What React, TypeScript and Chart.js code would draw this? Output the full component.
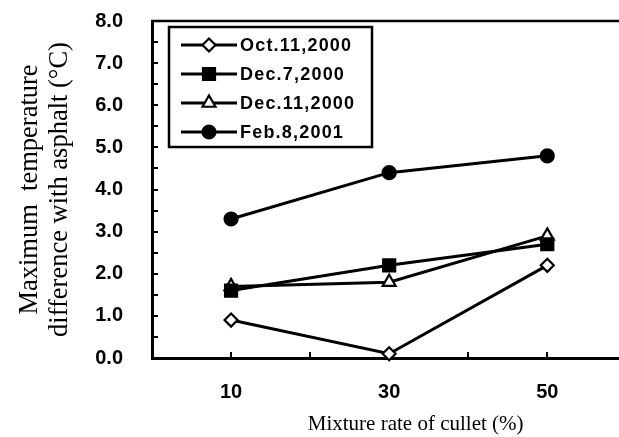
import React, { useEffect, useRef } from 'react';
import { Chart, registerables } from 'chart.js';
import { drawPoint } from 'chart.js/helpers';

Chart.register(...registerables);

const mixtureRates = [10, 30, 50];
const oct11 = [0.9, 0.1, 2.2];
const dec7 = [1.6, 2.2, 2.7];
const dec11 = [1.7, 1.8, 2.9];
const feb8 = [3.3, 4.4, 4.8];
const seriesLabels = ['Oct.11,2000', 'Dec.7,2000', 'Dec.11,2000', 'Feb.8,2001'];
const xTickLabels = [10, 30, 50];
const yTitle = ['Maximum  temperature', 'difference with asphalt (°C)'];
const xTitle = 'Mixture rate of cullet (%)';

const toPoints = (vals: number[]) => vals.map((v, i) => ({ x: mixtureRates[i], y: v }));

const topBorder = {
  id: 'topBorder',
  afterDraw(chart: any) {
    const { ctx, chartArea } = chart;
    ctx.save();
    ctx.strokeStyle = '#000';
    ctx.lineWidth = 2.5;
    ctx.beginPath();
    ctx.moveTo(chartArea.left - 1, chartArea.top);
    ctx.lineTo(chartArea.right, chartArea.top);
    ctx.stroke();
    ctx.restore();
  },
};

const boxLegend = {
  id: 'boxLegend',
  afterDraw(chart: any) {
    const { ctx, chartArea } = chart;
    const left = chartArea.left + 17;
    const top = chartArea.top + 6;
    const w = 203;
    const h = 120;
    ctx.save();
    ctx.fillStyle = '#fff';
    ctx.fillRect(left, top, w, h);
    ctx.strokeStyle = '#000';
    ctx.lineWidth = 2.5;
    ctx.strokeRect(left, top, w, h);
    ctx.font = 'bold 18px "Liberation Sans"';
    try { (ctx as any).letterSpacing = '1.2px'; } catch (e) {}
    chart.data.datasets.forEach((ds: any, i: number) => {
      const y = top + 18 + i * 29;
      ctx.beginPath();
      ctx.moveTo(left + 12, y);
      ctx.lineTo(left + 68, y);
      ctx.lineWidth = ds.borderWidth;
      ctx.strokeStyle = ds.borderColor;
      ctx.stroke();
      ctx.fillStyle = ds.pointBackgroundColor;
      ctx.strokeStyle = ds.pointBorderColor;
      ctx.lineWidth = ds.pointBorderWidth;
      drawPoint(ctx, { pointStyle: ds.pointStyle, rotation: 0, radius: ds.pointRadius, borderWidth: ds.pointBorderWidth }, left + 40, y);
      ctx.fillStyle = '#000';
      ctx.textBaseline = 'middle';
      ctx.textAlign = 'left';
      ctx.fillText(ds.label, left + 71, y + 1);
    });
    ctx.restore();
  },
};

export default function App() {
  const canvasRef = useRef<HTMLCanvasElement | null>(null);

  useEffect(() => {
    if (!canvasRef.current) return;
    const mk = (label: string, vals: number[], style: string, radius: number, fill: string) => ({
      label,
      data: toPoints(vals),
      borderColor: '#000',
      borderWidth: 3,
      pointStyle: style,
      pointRadius: radius,
      pointBackgroundColor: fill,
      pointBorderColor: '#000',
      pointBorderWidth: 2.2,
      clip: false as any,
    });
    const chart = new Chart(canvasRef.current, {
      type: 'line',
      data: {
        datasets: [
          mk(seriesLabels[0], oct11, 'rectRot', 6.5, '#fff'),
          mk(seriesLabels[1], dec7, 'rect', 8.5, '#000'),
          mk(seriesLabels[2], dec11, 'triangle', 7.5, '#fff'),
          mk(seriesLabels[3], feb8, 'circle', 6.5, '#000'),
        ] as any,
      },
      options: {
        animation: false,
        responsive: true,
        maintainAspectRatio: false,
        layout: { padding: { top: 21, right: 7, left: 0, bottom: 0 } },
        plugins: { legend: { display: false }, tooltip: { enabled: false } },
        scales: {
          x: {
            type: 'linear',
            min: 0,
            max: 66.7,
            afterFit: (s: any) => { s.height = 79; s.paddingLeft = 0; s.paddingRight = 0; },
            ticks: {
              stepSize: 10,
              autoSkip: false,
              maxRotation: 0,
              padding: 28,
              color: '#000',
              font: { family: 'Liberation Sans', size: 20, weight: 'bold' },
              callback: (v: any) => (xTickLabels.includes(Number(v)) ? String(v) : ''),
            },
            grid: { drawOnChartArea: false, drawTicks: true, tickLength: -6, color: '#000', lineWidth: 2 },
            border: { display: true, color: '#000', width: 3 },
            title: {
              display: true,
              text: xTitle,
              color: '#000',
              font: { family: 'Liberation Serif', size: 21 },
              padding: { top: 0, bottom: 0 },
            },
          },
          y: {
            min: 0,
            max: 8,
            afterFit: (s: any) => { s.width = 152; s.paddingTop = 10; s.paddingBottom = 10; },
            ticks: {
              stepSize: 0.5,
              autoSkip: false,
              padding: 35,
              color: '#000',
              font: { family: 'Liberation Sans', size: 20, weight: 'bold' },
              callback: (v: any) => (Number.isInteger(Number(v)) ? Number(v).toFixed(1) : ''),
            },
            grid: { drawOnChartArea: false, drawTicks: true, tickLength: -6, color: '#000', lineWidth: 2 },
            border: { display: true, color: '#000', width: 3 },
            title: {
              display: true,
              text: yTitle,
              color: '#000',
              font: { family: 'Liberation Serif', size: 26.5, lineHeight: 1.13 },
              padding: { top: 15, bottom: 0 },
            },
          },
        },
      } as any,
      plugins: [topBorder, boxLegend],
    });
    return () => chart.destroy();
  }, []);

  return (
    <div style={{ position: 'fixed', left: 0, top: 0, width: 619, height: 437, overflow: 'hidden', background: '#fff' }}>
      <div style={{ position: 'relative', width: 690, height: 437 }}>
        <canvas ref={canvasRef} />
      </div>
    </div>
  );
}
